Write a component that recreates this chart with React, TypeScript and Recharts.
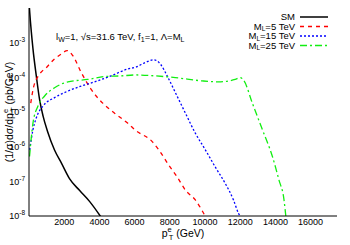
import React from "react";
import { LineChart, Line, XAxis, YAxis, Legend, Customized } from "recharts";

const FONT = '"Liberation Sans", Arial, Helvetica, sans-serif';

// p_T^e (GeV) and (1/sigma) dsigma/dp_T (pb/GeV)
const smX = [0, 40, 226, 415, 600, 800, 1050, 1450, 1850, 2300, 2880, 3450, 4080];
const smY = [1.5e-2, 7.6e-3, 6.6e-4, 1.1e-4, 2.3e-5, 7.6e-6, 2.8e-6, 8e-7, 3.3e-7, 1.2e-7, 5.4e-8, 2.6e-8, 9.5e-9];

const ml5X = [100, 250, 600, 980, 1450, 1830, 2170, 2490, 2960, 3530, 4190, 4850, 5600, 6060, 7000, 7375, 7940, 8415, 8885, 9450, 9920, 10050];
const ml5Y = [1.8e-5, 5e-5, 1.23e-4, 1.9e-4, 3.4e-4, 4.7e-4, 5.9e-4, 4.2e-4, 1.4e-4, 4.5e-5, 1.8e-5, 9.3e-6, 4.8e-6, 2.95e-6, 1.4e-6, 8.1e-7, 2.95e-7, 1.35e-7, 5.6e-8, 2.9e-8, 1.2e-8, 9e-9];

const ml15X = [40, 226, 415, 792, 1453, 2207, 2962, 3717, 4660, 5600, 6100, 6620, 7090, 7470, 7850, 8320, 8885, 9450, 10020, 10580, 11150, 11620, 11900, 12050];
const ml15Y = [8.1e-7, 3.1e-6, 6.8e-6, 1.48e-5, 2.6e-5, 4e-5, 5.6e-5, 7.4e-5, 1.1e-4, 1.74e-4, 2.0e-4, 2.7e-4, 3.2e-4, 2.4e-4, 1.1e-4, 3.6e-5, 9.3e-6, 2.45e-6, 8.1e-7, 2.6e-7, 8.7e-8, 2.9e-8, 1.2e-8, 9e-9];

const ml25X = [30, 226, 510, 887, 1453, 2207, 3340, 4280, 5225, 6055, 7190, 8320, 9830, 10770, 11715, 12000, 12220, 12690, 13260, 13830, 14200, 14490, 14600];
const ml25Y = [5.2e-7, 4.8e-6, 1.48e-5, 2.9e-5, 5e-5, 7.4e-5, 8.7e-5, 1.05e-4, 1.1e-4, 1.17e-4, 1.1e-4, 9.8e-5, 7.9e-5, 7.4e-5, 8.7e-5, 9.8e-5, 7.9e-5, 1.8e-5, 3.1e-6, 5.2e-7, 1.1e-7, 2.9e-8, 9e-9];

const seriesNames = ["SM", "M_L=5 TeV", "M_L=15 TeV", "M_L=25 TeV"];

const xDomain = [0, 17500];
const xTicks = [2000, 4000, 6000, 8000, 10000, 12000, 14000, 16000];
const yDomain = [1e-8, 1e-2];
const yLabelTicks = [1e-8, 1e-7, 1e-6, 1e-5, 1e-4, 1e-3];
const yMajorTicks = [1e-8, 1e-7, 1e-6, 1e-5, 1e-4, 1e-3, 1e-2];
const yMinorTicks = [2e-8, 5e-8, 2e-7, 5e-7, 2e-6, 5e-6, 2e-5, 5e-5, 2e-4, 5e-4, 2e-3, 5e-3];

const toPoints = (xs: number[], ys: number[]) => xs.map((x, i) => ({ x, y: ys[i] }));

const styles = [
  { color: "#000000", dash: undefined as string | undefined, width: 1.5 },
  { color: "#ff0000", dash: "4 4", width: 1.3 },
  { color: "#0000ff", dash: "2 2", width: 1.3 },
  { color: "#11ee11", dash: "7 3 2 3", width: 1.3 },
];

const series = [
  toPoints(smX, smY),
  toPoints(ml5X, ml5Y),
  toPoints(ml15X, ml15Y),
  toPoints(ml25X, ml25Y),
];

const Empty = () => <g />;

const YTick = (props: any) => {
  const { x, y, payload } = props;
  const exp = Math.round(Math.log10(payload.value));
  return (
    <text x={x} y={y} dy={3.2} textAnchor="end" fontFamily={FONT} fontSize={9} fill="#000">
      10
      <tspan dy={-4} fontSize={6.5}>{`${exp}`}</tspan>
    </text>
  );
};

const LegendLabel = ({ name, x, y }: { name: string; x: number; y: number }) => {
  if (name.startsWith("M_L")) {
    const rest = name.slice(3);
    return (
      <text x={x} y={y} textAnchor="end" fontFamily={FONT} fontSize={9.5} fill="#000">
        M<tspan dy={1.5} fontSize={6.5}>L</tspan>
        <tspan dy={-1.5}>{rest}</tspan>
      </text>
    );
  }
  return (
    <text x={x} y={y} textAnchor="end" fontFamily={FONT} fontSize={9.5} fill="#000">
      {name}
    </text>
  );
};

const renderLegend = () => (
  <svg width={135} height={44} style={{ display: "block" }}>
    {seriesNames.map((n, i) => {
      const cy = 7 + i * 9.5;
      const st = styles[i];
      return (
        <g key={n}>
          <LegendLabel name={n} x={95} y={cy + 3.3} />
          <line x1={100} x2={128} y1={cy} y2={cy} stroke={st.color} strokeWidth={st.width} strokeDasharray={st.dash} />
        </g>
      );
    })}
  </svg>
);

const XLabel = (props: any) => {
  const vb = props.viewBox || { x: 29, y: 216, width: 308, height: 29 };
  const cx = vb.x + vb.width / 2;
  return (
    <text x={cx} y={vb.y + 21} textAnchor="middle" fontFamily={FONT} fontSize={10.5} fill="#000">
      p<tspan dy={-5} fontSize={7.5}>e</tspan>
      <tspan dx={-3} dy={8} fontSize={7.5}>T</tspan>
      <tspan dy={-3}> (GeV)</tspan>
    </text>
  );
};

const YLabel = (props: any) => {
  const vb = props.viewBox || { x: 0, y: 8, width: 29, height: 208 };
  const cx = 13;
  const cy = vb.y + vb.height / 2;
  return (
    <text
      x={cx}
      y={cy}
      transform={`rotate(-90 ${cx} ${cy})`}
      textAnchor="middle"
      fontFamily={FONT}
      fontSize={10.5}
      fill="#000"
    >
      (1/σ)dσ/dp<tspan dy={-5} fontSize={7.5}>e</tspan>
      <tspan dx={-3} dy={8} fontSize={7.5}>T</tspan>
      <tspan dy={-3}> (pb/GeV)</tspan>
    </text>
  );
};

const Annotation = () => (
  <text x={56} y={40} fontFamily={FONT} fontSize={9.5} fill="#000">
    l<tspan dy={2} fontSize={7}>W</tspan>
    <tspan dy={-2}>=1, √s=31.6 TeV, f</tspan>
    <tspan dy={2} fontSize={7}>1</tspan>
    <tspan dy={-2}>=1, Λ=M</tspan>
    <tspan dy={2} fontSize={7}>L</tspan>
  </text>
);

export default function App() {
  return (
    <div style={{ position: "absolute", left: 0, top: 0, width: 350, height: 245, background: "#fff" }}>
      <LineChart width={350} height={245} margin={{ top: 8, right: 13, bottom: 0, left: 0 }}>
        <XAxis
          xAxisId="main"
          dataKey="x"
          type="number"
          domain={xDomain}
          ticks={xTicks}
          allowDataOverflow
          height={29}
          tickSize={0}
          tickMargin={3}
          tickLine={false}
          axisLine={{ stroke: "#000", strokeWidth: 1 }}
          tick={{ fontSize: 9, fill: "#000", fontFamily: FONT }}
          label={<XLabel />}
        />
        <XAxis xAxisId="bt" type="number" domain={xDomain} ticks={xTicks} allowDataOverflow orientation="bottom" mirror height={0} tickSize={4} tick={Empty} axisLine={false} tickLine={{ stroke: "#000" }} />
        <XAxis xAxisId="tp" type="number" domain={xDomain} ticks={xTicks} allowDataOverflow orientation="top" mirror height={0} tickSize={4} tick={Empty} axisLine={{ stroke: "#000" }} tickLine={{ stroke: "#000" }} />
        <YAxis
          yAxisId="main"
          dataKey="y"
          type="number"
          scale="log"
          domain={yDomain}
          ticks={yLabelTicks}
          allowDataOverflow
          width={29}
          tickSize={0}
          tickMargin={4}
          tickLine={false}
          axisLine={{ stroke: "#000", strokeWidth: 1 }}
          tick={YTick}
          label={<YLabel />}
        />
        <YAxis yAxisId="lmaj" type="number" scale="log" domain={yDomain} ticks={yMajorTicks} allowDataOverflow orientation="left" mirror width={0} tickSize={4} tick={Empty} axisLine={false} tickLine={{ stroke: "#000" }} />
        <YAxis yAxisId="lmin" type="number" scale="log" domain={yDomain} ticks={yMinorTicks} allowDataOverflow orientation="left" mirror width={0} tickSize={2} tick={Empty} axisLine={false} tickLine={{ stroke: "#000" }} />
        <YAxis yAxisId="rmaj" type="number" scale="log" domain={yDomain} ticks={yMajorTicks} allowDataOverflow orientation="right" mirror width={0} tickSize={4} tick={Empty} axisLine={{ stroke: "#000" }} tickLine={{ stroke: "#000" }} />
        <YAxis yAxisId="rmin" type="number" scale="log" domain={yDomain} ticks={yMinorTicks} allowDataOverflow orientation="right" mirror width={0} tickSize={2} tick={Empty} axisLine={false} tickLine={{ stroke: "#000" }} />
        {series.map((d, i) => (
          <Line
            key={seriesNames[i]}
            name={seriesNames[i]}
            data={d}
            xAxisId="main"
            yAxisId="main"
            dataKey="y"
            type="monotone"
            stroke={styles[i].color}
            strokeWidth={styles[i].width}
            strokeDasharray={styles[i].dash}
            dot={false}
            activeDot={false}
            isAnimationActive={false}
          />
        ))}
        <Legend
          layout="horizontal"
          verticalAlign="middle"
          align="center"
          content={renderLegend}
          wrapperStyle={{ top: 10, left: 200, right: "auto", bottom: "auto", width: 135, height: 44 }}
        />
        <Customized component={Annotation} />
      </LineChart>
    </div>
  );
}
